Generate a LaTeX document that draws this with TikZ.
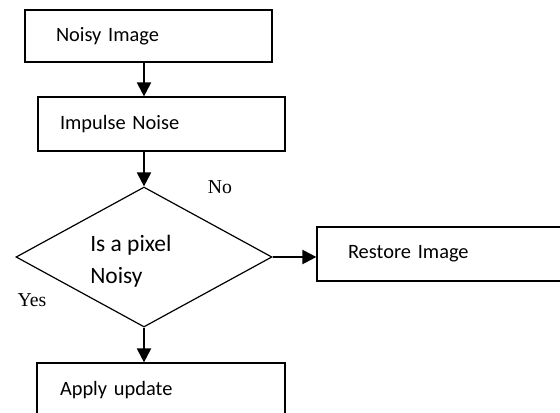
\documentclass[tikz,border=0pt]{standalone}
\usepackage{fontspec}
\setmainfont{Carlito}
\newfontfamily\timesfont{Liberation Serif}
\usetikzlibrary{shapes.geometric, arrows.meta, calc}
\tikzstyle{box} = [rectangle, draw=black, line width=0.9pt, minimum height=40.5pt, align=left, font=\fontsize{15.3}{18}\selectfont]
\tikzstyle{decision} = [diamond, draw=black, line width=0.9pt, minimum width=192pt, minimum height=105pt, inner sep=0pt]
\tikzstyle{arrow} = [line width=1.6pt, -{Triangle[length=10.5pt,width=10.5pt]}]
\tikzstyle{answer} = [font=\timesfont\fontsize{14.8}{18}\selectfont, inner sep=0pt]

\begin{document}
\begin{tikzpicture}[x=0.75pt, y=-0.75pt]
\clip (0,0) rectangle (560,412);

\node (noisy) [box, minimum height=39pt, inner xsep=23.25pt, text width=138.75pt] at (148.5,36) {Noisy Image};
\node (impulse) [box, inner xsep=16.5pt, text width=152.25pt] at (161.5,124) {Impulse Noise};
\node (check) [decision] at (144,257) {};
\node (question) [align=left, anchor=west, inner sep=0pt, font=\fontsize{17.6}{24}\selectfont] at (90,261) {Is a pixel\\Noisy};
\node (restore) [box, inner xsep=23.25pt, text width=165.75pt] at (458.5,254) {Restore Image};
\node (update) [box, inner xsep=17.25pt, text width=151.5pt] at (161,390) {Apply update};

\node (no) [answer] at (220,187) {No};
\node (yes) [answer] at (32,300) {Yes};

\draw [arrow] (noisy.south -| check.north) -- (impulse.north -| check.north);
\draw [arrow] (impulse.south -| check.north) -- (check.north);
\draw [arrow] (check.east) -- (check.east -| restore.west);
\draw [arrow] (check.south) -- (update.north -| check.south);

\end{tikzpicture}
\end{document}
